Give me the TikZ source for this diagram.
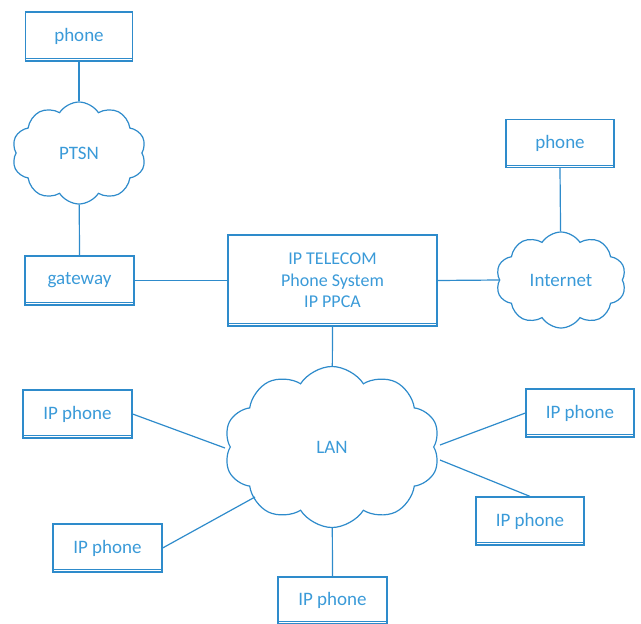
\documentclass[tikz,border=0pt]{standalone}
\usepackage{fontspec}
\setmainfont{Carlito}
\usetikzlibrary{shapes.symbols}
\definecolor{ln}{HTML}{2E8BCB}
\definecolor{tx}{HTML}{3A9AD8}
\tikzset{
  box/.style={draw=ln, line width=1.2pt, rectangle, inner sep=0pt, text=tx, font=\fontsize{19}{21}\selectfont},
  cl/.style={draw=ln, line width=1.2pt, cloud, cloud puffs=10, cloud puff arc=115, aspect=1.4, inner sep=0pt, text=tx, font=\fontsize{19}{21}\selectfont},
  wire/.style={draw=ln, line width=1.2pt}
}
\begin{document}
\begin{tikzpicture}[x=1pt,y=-1pt]
\useasboundingbox (0,0) rectangle (641,624);
% boxes
\node[box, minimum width=107pt, minimum height=49pt] (phA) at (79,36.5) {phone};
\node[box, minimum width=109pt, minimum height=49pt] (gw) at (79.5,280.5) {gateway};
\node[box, minimum width=209pt, minimum height=91pt, align=center, font=\fontsize{18}{21.5}\selectfont] (pbx) at (332.5,280.5)
  {IP TELECOM\\Phone System\\IP PPCA};
\node[box, minimum width=108pt, minimum height=48pt] (phB) at (560,143.5) {phone};
\node[box, minimum width=109pt, minimum height=48pt] (ipA) at (77.5,414) {IP phone};
\node[box, minimum width=108pt, minimum height=48pt] (ipB) at (580,413) {IP phone};
\node[box, minimum width=108pt, minimum height=48pt] (ipC) at (530,521) {IP phone};
\node[box, minimum width=109pt, minimum height=48pt] (ipD) at (107.5,548) {IP phone};
\node[box, minimum width=109pt, minimum height=47pt] (ipE) at (332.5,600.5) {IP phone};
\foreach \b in {phA,gw,pbx,phB,ipA,ipB,ipC,ipD,ipE}
  \draw[ln, line width=1.2pt] ([yshift=3pt]\b.south west) -- ([yshift=3pt]\b.south east);
% clouds
\node[cl, minimum width=134pt, minimum height=102pt] (ptsn) at (79,153) {PTSN};
\node[cl, minimum width=130pt, minimum height=96pt] (inet) at (561,280) {Internet};
\node[cl, minimum width=216pt, minimum height=161pt] (lan) at (332,447) {LAN};
% connection points on the LAN cloud
\coordinate (lA) at (225,448);
\coordinate (lB) at (440,445);
\coordinate (lC) at (440,460);
\coordinate (lD) at (255,497);
% connectors
\draw[wire] (phA.south) -- (ptsn);
\draw[wire] (ptsn) -- (gw.north);
\draw[wire] (gw.east) -- (pbx.west);
\draw[wire] (pbx.east) -- (inet.west);
\draw[wire] (phB.south) -- (inet);
\draw[wire] (pbx.south) -- (lan);
\draw[wire] (ipA.east) -- (lA);
\draw[wire] (ipB.west) -- (lB);
\draw[wire] (ipC.north) -- (lC);
\draw[wire] (ipD.east) -- (lD);
\draw[wire] (ipE.north) -- (lan);
\end{tikzpicture}
\end{document}
